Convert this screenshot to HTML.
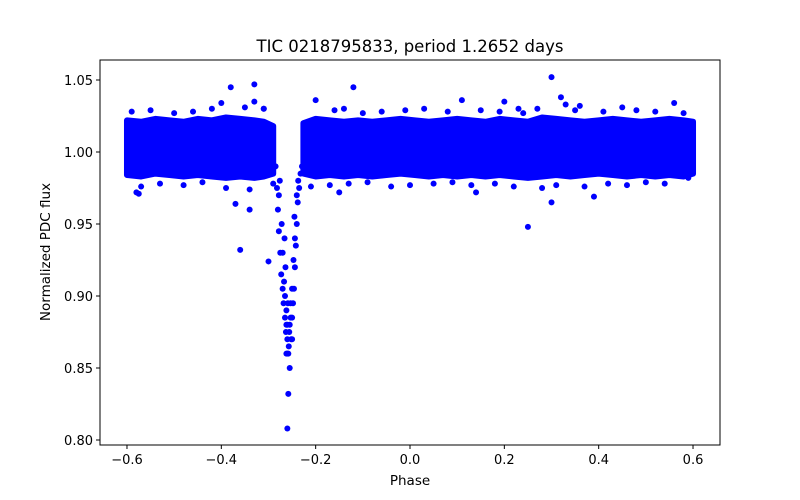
<!DOCTYPE html>
<html><head><meta charset="utf-8"><style>
body{margin:0;background:#fff;}
svg{display:block;font-family:"DejaVu Sans","Liberation Sans",sans-serif;}
</style></head><body>
<svg id="chart" width="800" height="500">
<rect x="0" y="0" width="800" height="500" fill="#fff"/>
<text x="410" y="52" font-size="16.5" text-anchor="middle">TIC 0218795833, period 1.2652 days</text>
<g id="marks"></g>
<rect x="100" y="60" width="620" height="385" fill="none" stroke="#000" stroke-width="1"/>
<g id="xticks"></g>
<g id="yticks"></g>
<text x="410" y="485" font-size="13.5" text-anchor="middle">Phase</text>
<text x="50" y="252" font-size="13.5" text-anchor="middle" transform="rotate(-90 50 252)">Normalized PDC flux</text>
</svg>
<script>
const xTicks=[-0.6,-0.4,-0.2,0.0,0.2,0.4,0.6];
const xTickLabels=["−0.6","−0.4","−0.2","0.0","0.2","0.4","0.6"];
const yTicks=[0.80,0.85,0.90,0.95,1.00,1.05];
const yTickLabels=["0.80","0.85","0.90","0.95","1.00","1.05"];
// envelope of dense band (phase, top flux, bottom flux)
const band1Phase=[-0.6,-0.57,-0.54,-0.51,-0.48,-0.45,-0.42,-0.39,-0.36,-0.33,-0.31,-0.29];
const band1Top=[1.022,1.021,1.023,1.022,1.021,1.023,1.022,1.024,1.023,1.022,1.021,1.018];
const band1Bot=[0.984,0.983,0.985,0.984,0.983,0.984,0.983,0.982,0.983,0.982,0.983,0.985];
const band2Phase=[-0.226,-0.2,-0.17,-0.14,-0.11,-0.08,-0.05,-0.02,0.01,0.04,0.07,0.1,0.13,0.16,0.19,0.22,0.25,0.28,0.31,0.34,0.37,0.4,0.43,0.46,0.49,0.52,0.55,0.58,0.6];
const band2Top=[1.02,1.023,1.022,1.021,1.022,1.021,1.022,1.023,1.022,1.021,1.022,1.023,1.022,1.021,1.023,1.022,1.021,1.024,1.023,1.022,1.021,1.022,1.023,1.022,1.021,1.022,1.023,1.022,1.021];
const band2Bot=[0.985,0.983,0.984,0.983,0.984,0.983,0.984,0.985,0.984,0.983,0.984,0.983,0.984,0.983,0.984,0.983,0.982,0.983,0.984,0.983,0.984,0.985,0.984,0.983,0.984,0.983,0.984,0.983,0.985];
// individual points
const ptPhase=[-0.285,-0.282,-0.28,-0.278,-0.275,-0.273,-0.27,-0.268,-0.265,-0.263,-0.26,-0.258,-0.262,-0.255,-0.252,-0.25,-0.248,-0.246,-0.244,-0.242,-0.24,-0.238,-0.235,-0.232,-0.229,-0.26,-0.258,-0.26,-0.257,-0.255,-0.265,-0.267,-0.27,-0.272,-0.253,-0.25,-0.247,-0.244,-0.262,-0.256,-0.253,-0.259,-0.264,-0.266,-0.276,-0.278,-0.24,-0.237,-0.245,-0.25,-0.26,-0.262,
-0.38,-0.33,-0.12,0.3,0.25,-0.36,-0.3,-0.37,-0.34,0.32,0.3,0.39,-0.58,-0.575,-0.15,0.14,-0.33,-0.31,-0.4,-0.14,0.33,0.2,0.23,0.36,
-0.59,-0.55,-0.5,-0.46,-0.42,-0.35,-0.31,-0.2,-0.16,-0.1,-0.06,-0.01,0.03,0.08,0.11,0.15,0.19,0.24,0.27,0.35,0.41,0.45,0.48,0.52,0.56,0.58,
-0.57,-0.53,-0.48,-0.44,-0.39,-0.34,-0.29,-0.21,-0.17,-0.13,-0.09,-0.04,0.0,0.05,0.09,0.13,0.18,0.22,0.28,0.31,0.37,0.42,0.46,0.5,0.54,0.59];
const ptFlux=[0.99,0.975,0.96,0.945,0.93,0.915,0.905,0.895,0.885,0.875,0.87,0.86,0.89,0.88,0.87,0.885,0.895,0.905,0.92,0.935,0.95,0.965,0.975,0.985,0.99,0.808,0.832,0.86,0.865,0.85,0.9,0.91,0.93,0.95,0.895,0.905,0.925,0.94,0.88,0.875,0.885,0.895,0.92,0.94,0.98,0.97,0.97,0.98,0.955,0.87,0.88,0.86,
1.045,1.047,1.045,1.052,0.948,0.932,0.924,0.964,0.96,1.038,0.965,0.969,0.972,0.971,0.972,0.972,1.035,1.03,1.034,1.03,1.033,1.035,1.03,1.032,
1.028,1.029,1.027,1.028,1.03,1.031,1.03,1.036,1.029,1.027,1.028,1.029,1.03,1.028,1.036,1.029,1.028,1.027,1.03,1.029,1.028,1.031,1.029,1.028,1.034,1.027,
0.976,0.978,0.977,0.979,0.975,0.974,0.978,0.976,0.977,0.978,0.979,0.976,0.977,0.978,0.979,0.977,0.978,0.976,0.975,0.977,0.976,0.978,0.977,0.979,0.978,0.982];
const NS='http://www.w3.org/2000/svg';
const X0=100,X1=720,Y0=60,Y1=445;
function sx(v){return 410+(v-0)*471.7;}
function sy(v){return 152-(v-1.0)*1440;}
const marks=document.getElementById('marks');
function drawBand(ph,top,bot){
  let d='M'+ph.map((p,i)=>sx(p)+','+sy(top[i])).join('L');
  for(let i=ph.length-1;i>=0;i--) d+='L'+sx(ph[i])+','+sy(bot[i]);
  d+='Z';
  const p=document.createElementNS(NS,'path');
  p.setAttribute('d',d);p.setAttribute('fill','#0000ff');p.setAttribute('stroke','#0000ff');p.setAttribute('stroke-width','6');p.setAttribute('stroke-linejoin','round');
  
  
  marks.appendChild(p);
}
drawBand(band1Phase,band1Top,band1Bot);
drawBand(band2Phase,band2Top,band2Bot);
ptPhase.forEach((p,i)=>{
  const c=document.createElementNS(NS,'circle');
  c.setAttribute('cx',sx(p));c.setAttribute('cy',sy(ptFlux[i]));c.setAttribute('r','3');c.setAttribute('fill','#0000ff');
  
  
  marks.appendChild(c);
});
const xt=document.getElementById('xticks');
xTicks.forEach((t,i)=>{
  const x=sx(t);
  const l=document.createElementNS(NS,'line');
  l.setAttribute('x1',x);l.setAttribute('x2',x);l.setAttribute('y1',Y1);l.setAttribute('y2',Y1+4);l.setAttribute('stroke','#000');
  
  
  xt.appendChild(l);
  const tx=document.createElementNS(NS,'text');
  tx.setAttribute('x',x);tx.setAttribute('y',Y1+19);tx.setAttribute('font-size','13');tx.setAttribute('text-anchor','middle');
  tx.textContent=xTickLabels[i];
  
  
  xt.appendChild(tx);
});
const yt=document.getElementById('yticks');
yTicks.forEach((t,i)=>{
  const y=sy(t);
  const l=document.createElementNS(NS,'line');
  l.setAttribute('x1',X0-4);l.setAttribute('x2',X0);l.setAttribute('y1',y);l.setAttribute('y2',y);l.setAttribute('stroke','#000');
  
  
  yt.appendChild(l);
  const tx=document.createElementNS(NS,'text');
  tx.setAttribute('x',X0-7);tx.setAttribute('y',y+5);tx.setAttribute('font-size','13');tx.setAttribute('text-anchor','end');
  tx.textContent=yTickLabels[i];
  
  
  yt.appendChild(tx);
});
</script>
</body></html>
